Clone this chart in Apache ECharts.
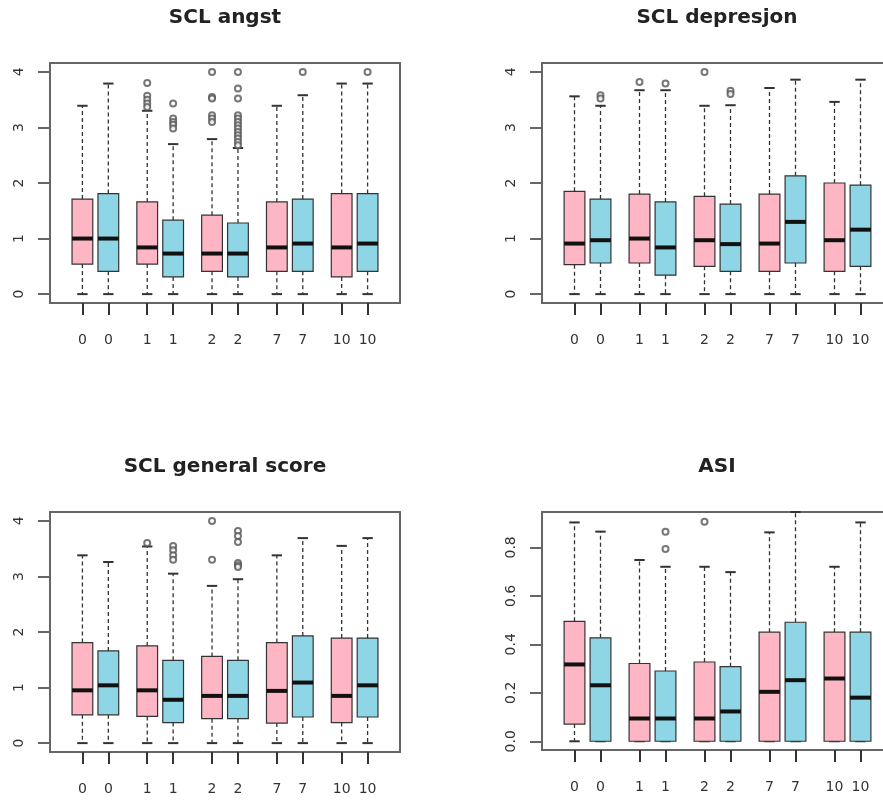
<!DOCTYPE html>
<html>
<head>
<meta charset="utf-8">
<script src="https://cdn.jsdelivr.net/npm/echarts@6/dist/echarts.min.js"></script>
<style>
  html, body { margin: 0; padding: 0; background: #fff; }
  #chart { width: 883px; height: 804px; }
</style>
</head>
<body>
<div id="chart"></div>
<script>
// ---------- data ----------
const POSITIONS = [1, 2, 3.5, 4.5, 6, 7, 8.5, 9.5, 11, 12];
const GROUP_LABELS = ['0', '0', '1', '1', '2', '2', '7', '7', '10', '10'];
const SCL_TICKS = [0, 1, 2, 3, 4];
const ASI_TICKS = [0, 0.2, 0.4, 0.6, 0.8];
const TITLES = ['SCL angst', 'SCL depresjon', 'SCL general score', 'ASI'];

// SCL angst
const ANGST_LOW  = [0, 0, 0, 0, 0, 0, 0, 0, 0, 0];
const ANGST_Q1   = [0.54, 0.41, 0.54, 0.31, 0.41, 0.31, 0.41, 0.41, 0.31, 0.41];
const ANGST_MED  = [1.0, 1.0, 0.84, 0.73, 0.73, 0.73, 0.84, 0.91, 0.84, 0.91];
const ANGST_Q3   = [1.71, 1.81, 1.66, 1.33, 1.42, 1.28, 1.66, 1.71, 1.81, 1.81];
const ANGST_HIGH = [3.39, 3.79, 3.3, 2.7, 2.79, 2.63, 3.39, 3.58, 3.79, 3.79];
const ANGST_OUT  = [
  [2, 3.8], [2, 3.57], [2, 3.5], [2, 3.43], [2, 3.37],
  [3, 3.43], [3, 3.16], [3, 3.1], [3, 3.05], [3, 2.98],
  [4, 4.0], [4, 3.55], [4, 3.52], [4, 3.22], [4, 3.16], [4, 3.1],
  [5, 4.0], [5, 3.7], [5, 3.52], [5, 3.22], [5, 3.16], [5, 3.1], [5, 3.04], [5, 2.98],
  [5, 2.92], [5, 2.86], [5, 2.8], [5, 2.74], [5, 2.68],
  [7, 4.0], [9, 4.0]
];

// SCL depresjon
const DEPR_LOW  = [0, 0, 0, 0, 0, 0, 0, 0, 0, 0];
const DEPR_Q1   = [0.53, 0.56, 0.56, 0.34, 0.5, 0.41, 0.41, 0.56, 0.41, 0.5];
const DEPR_MED  = [0.91, 0.97, 1.0, 0.84, 0.97, 0.9, 0.91, 1.3, 0.97, 1.16];
const DEPR_Q3   = [1.85, 1.71, 1.8, 1.66, 1.76, 1.62, 1.8, 2.13, 2.0, 1.96];
const DEPR_HIGH = [3.56, 3.39, 3.67, 3.67, 3.39, 3.4, 3.71, 3.86, 3.46, 3.86];
const DEPR_OUT  = [
  [1, 3.58], [1, 3.52], [2, 3.82], [3, 3.79], [4, 4.0], [5, 3.66], [5, 3.6]
];

// SCL general score
const GEN_LOW  = [0, 0, 0, 0, 0, 0, 0, 0, 0, 0];
const GEN_Q1   = [0.51, 0.51, 0.48, 0.37, 0.44, 0.44, 0.36, 0.47, 0.37, 0.47];
const GEN_MED  = [0.95, 1.04, 0.95, 0.78, 0.85, 0.85, 0.94, 1.09, 0.85, 1.04];
const GEN_Q3   = [1.81, 1.66, 1.75, 1.49, 1.56, 1.49, 1.81, 1.93, 1.89, 1.89];
const GEN_HIGH = [3.38, 3.26, 3.54, 3.05, 2.83, 2.95, 3.38, 3.69, 3.55, 3.69];
const GEN_OUT  = [
  [2, 3.6],
  [3, 3.55], [3, 3.47], [3, 3.38], [3, 3.3],
  [4, 4.0], [4, 3.3],
  [5, 3.82], [5, 3.73], [5, 3.62], [5, 3.24], [5, 3.2], [5, 3.17]
];

// ASI
const ASI_LOW  = [0, 0, 0, 0, 0, 0, 0, 0, 0, 0];
const ASI_Q1   = [0.071, 0, 0, 0, 0, 0, 0, 0, 0, 0];
const ASI_MED  = [0.317, 0.231, 0.094, 0.094, 0.094, 0.123, 0.204, 0.252, 0.259, 0.18];
const ASI_Q3   = [0.495, 0.427, 0.321, 0.29, 0.327, 0.308, 0.45, 0.491, 0.45, 0.45];
const ASI_HIGH = [0.903, 0.865, 0.748, 0.72, 0.72, 0.698, 0.862, 0.946, 0.72, 0.903];
const ASI_OUT  = [[3, 0.865], [3, 0.793], [4, 0.906]];

// ---------- styling / layout ----------
const FILLS = ['#FFB6C4', '#8ED6E5'];
const FRAME = '#666';
const INK = '#333';
const FONT = 'DejaVu Sans';
const BOX_WIDTH = 0.8;
const X_MIN = -0.25, X_MAX = 13.25;

const PANELS = [
  { low: ANGST_LOW, q1: ANGST_Q1, med: ANGST_MED, q3: ANGST_Q3, high: ANGST_HIGH, out: ANGST_OUT,
    ticks: SCL_TICKS, ymin: -0.16, ymax: 4.16, dec: 0,
    grid: { left: 50, top: 63, width: 350, height: 240 }, title: [225, 18] },
  { low: DEPR_LOW, q1: DEPR_Q1, med: DEPR_MED, q3: DEPR_Q3, high: DEPR_HIGH, out: DEPR_OUT,
    ticks: SCL_TICKS, ymin: -0.16, ymax: 4.16, dec: 0,
    grid: { left: 542, top: 63, width: 351, height: 240 }, title: [717, 18] },
  { low: GEN_LOW, q1: GEN_Q1, med: GEN_MED, q3: GEN_Q3, high: GEN_HIGH, out: GEN_OUT,
    ticks: SCL_TICKS, ymin: -0.16, ymax: 4.16, dec: 0,
    grid: { left: 50, top: 512, width: 350, height: 240 }, title: [225, 467] },
  { low: ASI_LOW, q1: ASI_Q1, med: ASI_MED, q3: ASI_Q3, high: ASI_HIGH, out: ASI_OUT,
    ticks: ASI_TICKS, ymin: -0.036, ymax: 0.946, dec: 1,
    grid: { left: 542, top: 512, width: 351, height: 238 }, title: [717, 467] }
];

function renderBox(params, api) {
  const x = api.value(0);
  const low = api.value(1), q1 = api.value(2), med = api.value(3), q3 = api.value(4), high = api.value(5);
  const ci = api.value(6);
  const w = api.size([BOX_WIDTH, 0])[0];
  const pLow = api.coord([x, low]);
  const pQ1 = api.coord([x, q1]);
  const pMed = api.coord([x, med]);
  const pQ3 = api.coord([x, q3]);
  const pHigh = api.coord([x, high]);
  const cx = pLow[0];
  const dash = { stroke: INK, lineWidth: 1.3, lineDash: [4, 3] };
  const cap = { stroke: INK, lineWidth: 2 };
  return {
    type: 'group',
    children: [
      { type: 'line', shape: { x1: cx, y1: pQ3[1], x2: cx, y2: pHigh[1] }, style: dash },
      { type: 'line', shape: { x1: cx, y1: pQ1[1], x2: cx, y2: pLow[1] }, style: dash },
      { type: 'line', shape: { x1: cx - w / 4, y1: pHigh[1], x2: cx + w / 4, y2: pHigh[1] }, style: cap },
      { type: 'line', shape: { x1: cx - w / 4, y1: pLow[1], x2: cx + w / 4, y2: pLow[1] }, style: cap },
      { type: 'rect', shape: { x: cx - w / 2, y: pQ3[1], width: w, height: pQ1[1] - pQ3[1] },
        style: { fill: FILLS[ci], stroke: INK, lineWidth: 1.2 } },
      { type: 'line', shape: { x1: cx - w / 2, y1: pMed[1], x2: cx + w / 2, y2: pMed[1] },
        style: { stroke: '#111', lineWidth: 4 } }
    ]
  };
}

const grids = [], xAxes = [], yAxes = [], series = [], graphics = [];
PANELS.forEach((p, k) => {
  grids.push(Object.assign({ show: true, borderColor: FRAME, borderWidth: 2, backgroundColor: 'transparent',
    containLabel: false, outerBoundsMode: 'none' }, p.grid));
  xAxes.push({
    type: 'value', gridIndex: k, min: X_MIN, max: X_MAX,
    axisLine: { show: true, onZero: false, lineStyle: { color: FRAME, width: 2 } },
    splitLine: { show: false },
    axisTick: { show: true, customValues: POSITIONS, length: 12, lineStyle: { color: INK, width: 2 } },
    axisLabel: { show: true, customValues: POSITIONS, margin: 30, fontFamily: FONT, fontSize: 14, color: INK,
      formatter: v => { const i = POSITIONS.indexOf(v); return i >= 0 ? GROUP_LABELS[i] : ''; } }
  });
  yAxes.push({
    type: 'value', gridIndex: k, min: p.ymin, max: p.ymax,
    axisLine: { show: true, onZero: false, lineStyle: { color: FRAME, width: 2 } },
    splitLine: { show: false },
    axisTick: { show: true, customValues: p.ticks, length: 12, lineStyle: { color: FRAME, width: 2 } },
    axisLabel: { show: true, customValues: p.ticks, rotate: 90, margin: 24, fontFamily: FONT, fontSize: 14, color: INK,
      formatter: v => v.toFixed(p.dec) }
  });
  series.push({
    type: 'custom', xAxisIndex: k, yAxisIndex: k, renderItem: renderBox, clip: false,
    data: POSITIONS.map((x, i) => [x, p.low[i], p.q1[i], p.med[i], p.q3[i], p.high[i], i % 2])
  });
  series.push({
    type: 'scatter', xAxisIndex: k, yAxisIndex: k, symbol: 'emptyCircle', symbolSize: 6,
    itemStyle: { color: '#555', borderColor: '#555', borderWidth: 1 },
    data: p.out.map(o => [POSITIONS[o[0]], o[1]])
  });
  graphics.push({
    type: 'text', x: p.title[0], y: p.title[1],
    style: { text: TITLES[k], fontFamily: FONT, fontSize: 20, fontWeight: 'bold', fill: '#222',
      align: 'center', verticalAlign: 'middle' }
  });
});

const chart = echarts.init(document.getElementById('chart'), null, { renderer: 'canvas' });
chart.setOption({
  animation: false,
  backgroundColor: '#fff',
  grid: grids,
  xAxis: xAxes,
  yAxis: yAxes,
  series: series,
  graphic: graphics
});
</script>
</body>
</html>
